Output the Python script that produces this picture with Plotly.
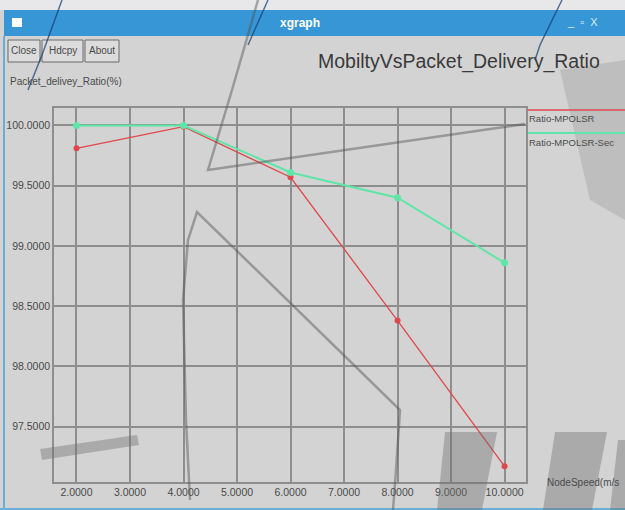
import plotly.graph_objects as go

# Node speed (m/s) and packet delivery ratio (%) for the two protocols
node_speed = [2, 4, 6, 8, 10]
pdr_mpolsr = [99.81, 99.99, 99.57, 98.38, 97.17]
pdr_mpolsr_sec = [100.0, 100.0, 99.61, 99.40, 98.86]
series_names = ["Ratio-MPOLSR", "Ratio-MPOLSR-Sec"]

x_ticks = [2, 3, 4, 5, 6, 7, 8, 9, 10]
y_ticks = [97.5, 98.0, 98.5, 99.0, 99.5, 100.0]

W, H = 625, 510
BG = "#d3d3d3"
GRID = "#8e8e8e"
TXT = "#4a4a4a"
FONT = "Liberation Sans, Arial, sans-serif"
RED = "#e0474c"
GREEN = "#5ee6a8"


def px(x):
    return x / W


def py(y):
    return 1 - y / H


fig = go.Figure()
fig.add_trace(go.Scatter(
    x=node_speed, y=pdr_mpolsr, mode="lines+markers", name=series_names[0],
    line=dict(color=RED, width=1.3), marker=dict(color=RED, size=6),
    showlegend=False))
fig.add_trace(go.Scatter(
    x=node_speed, y=pdr_mpolsr_sec, mode="lines+markers", name=series_names[1],
    line=dict(color=GREEN, width=2), marker=dict(color=GREEN, size=7),
    showlegend=False))

x_dom = [px(54), px(526)]
y_dom = [py(482), py(108)]

fig.update_layout(
    width=W, height=H,
    margin=dict(l=0, r=0, t=0, b=0),
    paper_bgcolor=BG, plot_bgcolor=BG,
    font=dict(family=FONT, color=TXT, size=10),
    xaxis=dict(domain=x_dom, range=[1.58, 10.4], tickvals=x_ticks,
               ticktext=[f"{v:.4f}" for v in x_ticks],
               showgrid=True, gridcolor=GRID, gridwidth=1.5,
               zeroline=False, showline=True, linecolor=GRID, linewidth=1.5,
               mirror=True, ticks="", tickfont=dict(size=10.5, color=TXT)),
    yaxis=dict(domain=y_dom, range=[97.04, 100.145], tickvals=y_ticks,
               ticktext=[f"{v:.4f}" for v in y_ticks],
               showgrid=True, gridcolor=GRID, gridwidth=1.5,
               zeroline=False, showline=True, linecolor=GRID, linewidth=1.5,
               mirror=True, ticks="", tickfont=dict(size=10.5, color=TXT)),
)

shapes = []
# window frame: top strip and blue title bar
shapes.append(dict(type="rect", xref="paper", yref="paper", layer="below",
                   x0=0, x1=1, y0=py(10), y1=1, fillcolor="#e8e8ea", line_width=0))
shapes.append(dict(type="rect", xref="paper", yref="paper", layer="below",
                   x0=px(4), x1=1, y0=py(36), y1=py(10), fillcolor="#3797d6", line_width=0))
shapes.append(dict(type="rect", xref="paper", yref="paper", layer="below",
                   x0=px(12), x1=px(22), y0=py(27), y1=py(18), fillcolor="white", line_width=0))
shapes.append(dict(type="line", xref="paper", yref="paper",
                   x0=px(4), x1=px(4), y0=0, y1=py(36), line=dict(color="#6aaed8", width=2)))
shapes.append(dict(type="line", xref="paper", yref="paper",
                   x0=0, x1=1, y0=py(509), y1=py(509), line=dict(color="#6aaed8", width=2)))

# buttons
for x0, x1 in [(8, 40), (42, 83), (85, 119)]:
    shapes.append(dict(type="rect", xref="paper", yref="paper", layer="below",
                       x0=px(x0), x1=px(x1), y0=py(62), y1=py(40),
                       fillcolor="#dcdcdc", line=dict(color="#6a6a6a", width=1)))

# legend swatches
shapes.append(dict(type="line", xref="paper", yref="paper",
                   x0=px(528), x1=1, y0=py(110), y1=py(110), line=dict(color=RED, width=1.5)))
shapes.append(dict(type="line", xref="paper", yref="paper",
                   x0=px(528), x1=1, y0=py(133), y1=py(133), line=dict(color=GREEN, width=2)))


def path(points, close=False):
    d = "M " + " L ".join(f"{px(a):.4f},{py(b):.4f}" for a, b in points)
    return d + (" Z" if close else "")


# faint background watermark strokes
WM = "rgba(80,80,80,0.45)"
strokes = [
    [(258, 0), (232, 90), (208, 170), (497, 128), (525, 124)],
    [(190, 500), (186, 420), (183, 300), (188, 240), (197, 212), (400, 410), (396, 470), (393, 510)],
]
for pts in strokes:
    shapes.append(dict(type="path", xref="paper", yref="paper", path=path(pts),
                       line=dict(color=WM, width=2.5)))

# thin dark strokes crossing the title bar
for pts in [[(62, 0), (42, 55), (28, 90)], [(268, 0), (248, 45)], [(562, 0), (540, 45), (535, 60)]]:
    shapes.append(dict(type="path", xref="paper", yref="paper", path=path(pts),
                       line=dict(color="rgba(20,60,110,0.7)", width=1.5)))

blocks = [
    [(445, 432), (497, 432), (482, 510), (437, 510)],
    [(555, 432), (607, 432), (592, 510), (543, 510)],
    [(618, 440), (625, 440), (625, 510), (610, 510)],
    [(40, 449), (137, 435), (139, 445), (42, 460)],
]
for pts in blocks:
    shapes.append(dict(type="path", xref="paper", yref="paper", path=path(pts, True),
                       fillcolor="rgba(110,110,110,0.4)", line_width=0))
# soft shading at the right edge
shapes.append(dict(type="path", xref="paper", yref="paper",
                   path=path([(560, 70), (625, 60), (625, 220), (590, 200)], True),
                   fillcolor="rgba(120,120,120,0.22)", line_width=0, layer="below"))

fig.update_layout(shapes=shapes)

ann = []


def text(x, y, s, size=10, color=TXT, anchor="left", bold=False):
    ann.append(dict(xref="paper", yref="paper", x=px(x), y=py(y), text=f"<b>{s}</b>" if bold else s,
                    showarrow=False, xanchor=anchor, yanchor="middle",
                    font=dict(size=size, color=color, family=FONT)))


text(300, 23, "xgraph", size=12, color="white", anchor="center", bold=True)
text(600, 22, "_  ▫  X", size=11, color="#d8ecf8", anchor="right")
text(24, 51, "Close", anchor="center")
text(62.5, 51, "Hdcpy", anchor="center")
text(102, 51, "About", anchor="center")
text(459, 61, "MobiltyVsPacket_Delivery_Ratio", size=19.5, color="#3a3a3a", anchor="center")
text(8, 82, "Packet_delivey_Ratio(%)", size=10)
text(527, 118, series_names[0], size=9.5)
text(527, 142, series_names[1], size=9.5)
text(545, 482, "NodeSpeed(m/s", size=10)

fig.update_layout(annotations=ann)

fig.write_html("out.html")
